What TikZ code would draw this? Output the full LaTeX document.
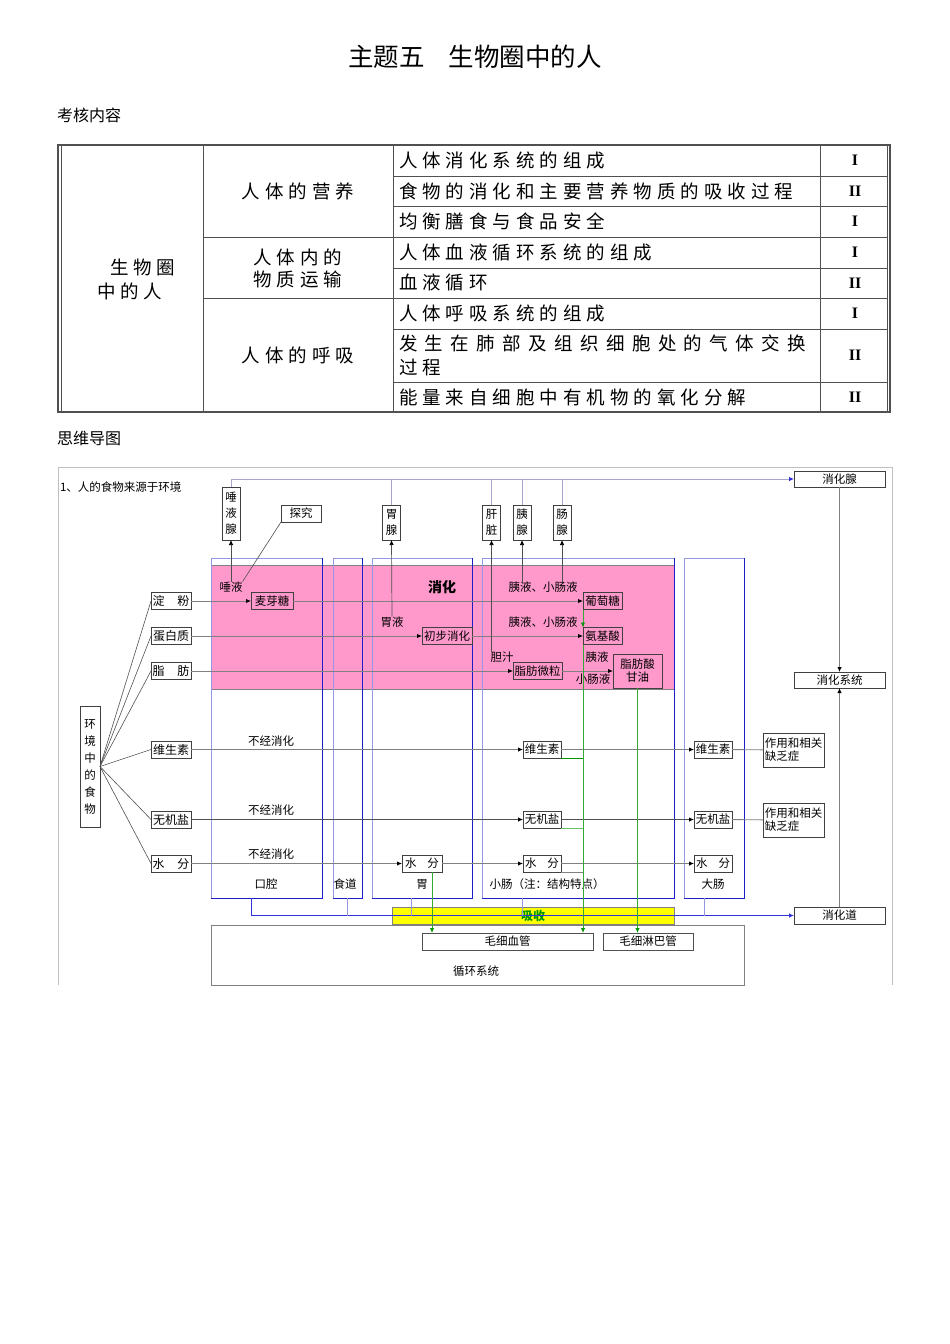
\documentclass[tikz,border=0pt]{standalone}
\usepackage{fontspec}
\setmainfont{Noto Sans CJK SC}
\newfontfamily\tablefont[LetterSpace=27]{Noto Sans CJK SC}
\newfontfamily\romanfont{Liberation Serif}
\usepackage{tikz}
\usetikzlibrary{positioning, arrows.meta, calc, backgrounds}
\definecolor{linegray}{RGB}{128,128,128}
\definecolor{rulegray}{RGB}{80,80,80}
\definecolor{organblue}{RGB}{30,30,200}
\definecolor{organpale}{RGB}{150,150,230}
\definecolor{buslav}{RGB}{165,165,205}
\definecolor{busblue}{RGB}{50,50,220}
\definecolor{digestpink}{RGB}{255,153,204}
\definecolor{absorbyellow}{RGB}{255,255,0}
\definecolor{flowgreen}{RGB}{0,150,0}

\begin{document}
\begin{tikzpicture}[
  x=1pt, y=-1pt,
  every node/.style={inner sep=0pt, outer sep=0pt},
  heading/.style={font=\fontsize{16}{18}\selectfont, anchor=west},
  cell/.style={font=\tablefont\fontsize{18.5}{24}\selectfont, anchor=west, align=left},
  topic/.style={font=\tablefont\fontsize{18.5}{22}\selectfont, align=center},
  grade/.style={font=\romanfont\bfseries\fontsize{16}{16}\selectfont},
  box/.style={draw=black!75, line width=0.6pt, font=\fontsize{11.5}{13}\selectfont,
    minimum height=17pt, inner xsep=1.5pt},
  food/.style={box, minimum width=40pt, font=\fontsize{12}{13}\selectfont},
  vbox/.style={draw=black!75, line width=0.6pt, font=\fontsize{11.5}{16}\selectfont,
    align=center, minimum width=18pt},
  organ/.style={draw=organpale, line width=0.7pt, minimum height=340pt},
  lbl/.style={font=\fontsize{11.5}{13}\selectfont},
  flow/.style={draw=linegray, line width=0.9pt, -{Latex[length=5pt, width=4.5pt, color=black]}},
  secrete/.style={draw=rulegray, line width=0.7pt, -{Latex[length=5pt, width=4.5pt, color=black]}},
  absorb/.style={draw=flowgreen!80, line width=0.9pt, -{Latex[length=5pt, width=4.5pt, color=flowgreen]}},
]
  \useasboundingbox (0,0) rectangle (950,1344);

  % Headings
  \node[font=\fontsize{25.5}{27}\selectfont] (title) at (475,57) {主题五\hspace{24pt}生物圈中的人};
  \node[heading] (exam) at (57,115) {考核内容};
  \node[heading] (mapttl) at (57,438) {思维导图};

  % Exam table
  \draw[rulegray, line width=1.2pt] (58,145) rectangle (890,412);
  \draw[rulegray] (61,145) -- (61,412) (887,145) -- (887,412);
  \foreach \x in {203,393,820} \draw[rulegray] (\x,145) -- (\x,412);
  \foreach \y in {176,206,237,268,298,329,382} \draw[rulegray] (393,\y) -- (887,\y);
  \foreach \y in {237,298} \draw[rulegray] (203,\y) -- (393,\y);

  \node[cell] (root) at (97,279) {\hspace{13pt}生物圈\\中的人};
  \node[topic] (c1) at (298,191) {人体的营养};
  \node[topic] (c2) at (298,268) {人体内的\\物质运输};
  \node[topic] (c3) at (298,355) {人体的呼吸};

  \foreach \n/\y/\t in {1/160.5/人体消化系统的组成, 2/191/食物的消化和主要营养物质的吸收过程,
      3/221.5/均衡膳食与食品安全, 4/252.5/人体血液循环系统的组成, 5/283/血液循环,
      6/313.5/人体呼吸系统的组成, 8/397/能量来自细胞中有机物的氧化分解}
    \node[cell] (t\n) at (399,\y) {\t};
  \node[cell] (t7) at (399,355.5) {{\addfontfeatures{LetterSpace=40}发生在肺部及组织细胞处的气体交换}\\过程};

  \foreach \n/\y/\g in {1/160.5/I, 2/191/II, 3/221.5/I, 4/252.5/I, 5/283/II, 6/313.5/I, 7/355.5/II, 8/397/II}
    \node[grade] (g\n) at (855,\y) {\g};

  % Mind map frame
  \draw[black!25] (58,985) -- (58,467) -- (892,467) -- (892,985);
  \node[lbl, anchor=west, font=\fontsize{11.5}{12}\selectfont] (intro) at (60,487) {1、人的食物来源于环境};

  % Digestion band and organ columns
  \fill[digestpink] (211,565) rectangle (674,689);
  \draw[linegray] (211,565) -- (674,565) (211,689) -- (674,689);
  \node[organ, minimum width=111pt] (mouth) at (266.5,728) {};
  \node[organ, minimum width=29pt] (gullet) at (347.5,728) {};
  \node[organ, minimum width=100pt] (stomach) at (422,728) {};
  \node[organ, minimum width=192pt] (smallint) at (578,728) {};
  \node[organ, minimum width=60pt] (largeint) at (714,728) {};
  \foreach \o in {mouth,gullet,stomach,smallint,largeint}
    \draw[organblue, line width=0.8pt] (\o.north east) -- (\o.south east) -- (\o.south west);
  \node[font=\bfseries\fontsize{14}{15}\selectfont] (digestlbl) at (442,587) {消化};

  \node[lbl] (lmouth) at (266,884) {口腔};
  \node[lbl] (lgullet) at (345,884) {食道};
  \node[lbl] (lstomach) at (422,884) {胃};
  \node[lbl] (lsmallint) at (547,884) {小肠（注：结构特点）};
  \node[lbl] (llargeint) at (713,884) {大肠};

  % Glands
  \node[vbox, minimum height=53pt] (salivary) at (231,513.5) {唾\\液\\腺};
  \node[box, minimum width=40pt] (explore) at (301,513.5) {探究};
  \node[vbox, minimum height=35pt] (gastricgl) at (391.5,522.5) {胃\\腺};
  \node[vbox, minimum height=35pt] (liver) at (491.5,522.5) {肝\\脏};
  \node[vbox, minimum height=35pt] (pancreas) at (522,522.5) {胰\\腺};
  \node[vbox, minimum height=35pt] (intgland) at (562,522.5) {肠\\腺};
  \node[box, minimum width=91pt, minimum height=16pt] (gland) at (839.5,479) {消化腺};
  \node[box, minimum width=91pt, minimum height=16pt] (system) at (839.5,680) {消化系统};
  \node[box, minimum width=91pt, minimum height=17pt] (tract) at (839.5,915.5) {消化道};

  \draw[buslav, line width=0.8pt, -{Latex[length=5pt, width=4.5pt, color=busblue]}]
    (salivary.north) -- (salivary.north |- gland.west) -- (gland.west);
  \foreach \g in {gastricgl,liver,pancreas,intgland}
    \draw[buslav, line width=0.8pt] (\g.north) -- (\g.north |- gland.west);
  \draw[flow] (gland.south) -- (system.north);
  \draw[flow] (tract.north) -- (system.south);

  % Food in the environment
  \node[vbox, minimum width=20pt, minimum height=121pt, font=\fontsize{11.5}{17}\selectfont] (env) at (90,766.5) {环\\境\\中\\的\\食\\物};
  \node[food] (starch) at (171,601) {淀\hspace{13pt}粉};
  \node[food] (protein) at (171,636) {蛋白质};
  \node[food] (fat) at (171,671) {脂\hspace{13pt}肪};
  \node[food] (vitamin) at (171,749.5) {维生素};
  \node[food] (mineral) at (171,819.5) {无机盐};
  \node[food] (water) at (171,863.5) {水\hspace{13pt}分};
  \foreach \f in {starch,protein,fat,vitamin,mineral,water}
    \draw[rulegray, line width=0.6pt] (env.east) -- (\f.west);

  % Digestion products
  \node[box, minimum width=42pt] (maltose) at (272,601) {麦芽糖};
  \node[box, minimum width=39pt] (glucose) at (602.5,601) {葡萄糖};
  \node[box, minimum width=50pt] (partial) at (447,636) {初步消化};
  \node[box, minimum width=39pt] (amino) at (602.5,636) {氨基酸};
  \node[box, minimum width=49pt] (micelle) at (537.5,671) {脂肪微粒};
  \node[box, minimum width=49pt, minimum height=34pt, align=center] (fattyacid) at (637.5,671) {脂肪酸\\甘油};

  \node[lbl] (saliva) at (231,587) {唾液};
  \node[lbl] (gastric) at (392,622) {胃液};
  \node[lbl] (bile) at (502,657) {胆汁};
  \node[lbl] (pjuice1) at (543,587) {胰液、小肠液};
  \node[lbl] (pjuice2) at (543,622) {胰液、小肠液};
  \node[lbl] (pjuice3) at (597,657) {胰液};
  \node[lbl] (ijuice3) at (593,679) {小肠液};

  \draw[flow] (starch) -- (maltose);
  \draw[flow] (maltose) -- (glucose);
  \draw[flow] (protein) -- (partial);
  \draw[flow] (partial) -- (amino);
  \draw[flow] (fat) -- (micelle);
  \draw[flow] (micelle) -- (fattyacid);

  \draw[secrete] (saliva.north) -- (salivary.south);
  \draw[rulegray, line width=0.6pt] (saliva.north east) -- (explore.south west);
  \draw[secrete] (gastric.north) -- (gastricgl.south);
  \draw[secrete] (liver.south |- bile.north) -- (liver.south);
  \draw[secrete] (pancreas.south |- pjuice1.north) -- (pancreas.south);
  \draw[secrete] (intgland.south |- pjuice1.north) -- (intgland.south);

  % Undigested nutrients
  \foreach \n/\y in {1/741, 2/810, 3/854}
    \node[lbl] (nodig\n) at (271,\y) {不经消化};
  \node[box, minimum width=38pt] (vit3) at (542,749.5) {维生素};
  \node[box, minimum width=38pt] (vit4) at (713,749.5) {维生素};
  \node[box, minimum width=38pt] (min3) at (542,819.5) {无机盐};
  \node[box, minimum width=38pt] (min4) at (713,819.5) {无机盐};
  \node[box, minimum width=40pt] (water2) at (422,863.5) {水\hspace{11pt}分};
  \node[box, minimum width=38pt] (water3) at (542,863.5) {水\hspace{11pt}分};
  \node[box, minimum width=38pt] (water4) at (713,863.5) {水\hspace{11pt}分};
  \node[box, minimum width=61pt, minimum height=34pt, align=left, anchor=west] (role1) at (763,750) {作用和相关\\缺乏症};
  \node[box, minimum width=61pt, minimum height=34pt, align=left, anchor=west] (role2) at (763,820) {作用和相关\\缺乏症};

  \draw[flow] (vitamin) -- (vit3);
  \draw[flow] (vit3) -- (vit4);
  \draw[linegray, line width=0.9pt] (vit4) -- (role1);
  \draw[flow, draw=rulegray] (mineral) -- (min3);
  \draw[flow, draw=rulegray] (min3) -- (min4);
  \draw[linegray, line width=0.9pt] (min4) -- (role2);
  \draw[flow] (water) -- (water2);
  \draw[flow] (water2) -- (water3);
  \draw[flow] (water3) -- (water4);

  % Absorption and circulation
  \node[draw=linegray, fill=absorbyellow, minimum width=282pt, minimum height=17pt,
    font=\bfseries\fontsize{12}{13}\selectfont, text=flowgreen] (absorbbox) at (533,915.5) {吸收};
  \node[draw=linegray, minimum width=533pt, minimum height=60pt] (circ) at (477.5,955) {};
  \node[lbl] (circlbl) at (476,971) {循环系统};
  \node[box, draw=rulegray, minimum width=171pt] (capillary) at (507.5,941.5) {毛细血管};
  \node[box, draw=rulegray, minimum width=90pt] (lymph) at (648,941.5) {毛细淋巴管};

  \draw[busblue, line width=0.8pt, -{Latex[length=5pt, width=4.5pt, color=busblue]}]
    ([xshift=-15pt]mouth.south) -- ([xshift=-15pt]mouth.south |- tract.west) -- (tract.west);
  \foreach \o/\dx in {gullet/0, stomach/-11, smallint/-56, largeint/-10}
    \draw[organpale, line width=0.8pt] ([xshift=\dx pt]\o.south) -- ([xshift=\dx pt]\o.south |- tract.west);

  \draw[absorb] (glucose.south west) -- (amino.north west);
  \draw[absorb] (amino.south west) -- (amino.south west |- capillary.north);
  \draw[absorb] (fattyacid.south) -- (fattyacid.south |- lymph.north);
  \draw[absorb] ([xshift=10pt]water2.south) -- ([xshift=10pt]water2.south |- capillary.north);
  \draw[flowgreen, line width=0.7pt] (vit3.south east) -- (vit3.south east -| amino.south west);
  \draw[flowgreen!60, line width=0.7pt] (min3.south east) -- (min3.south east -| amino.south west);
  \draw[linegray, line width=0.7pt] (water3.south east) -- (water3.south east -| amino.south west);
\end{tikzpicture}
\end{document}
